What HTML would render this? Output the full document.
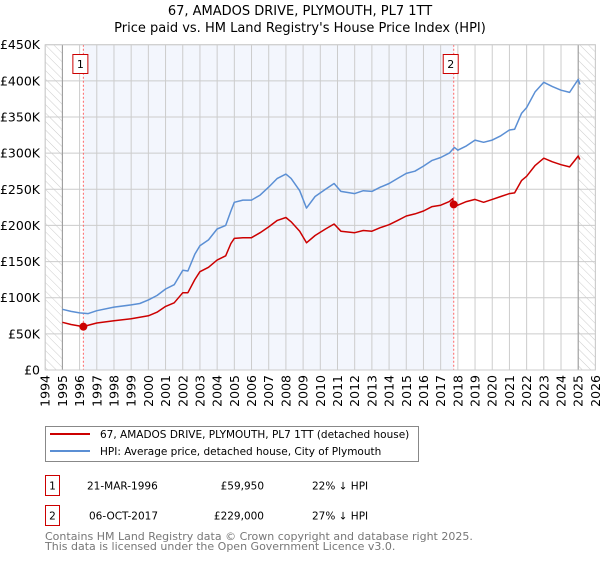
<!DOCTYPE html>
<html><head><meta charset="utf-8">
<style>
body{margin:0;background:#fff;font-family:"DejaVu Sans","Liberation Sans",sans-serif;}
svg text{font-family:"DejaVu Sans","Liberation Sans",sans-serif;}
</style></head>
<body>
<svg width="600" height="560" xmlns="http://www.w3.org/2000/svg">
<defs>
<pattern id="hatch" width="6" height="6" patternUnits="userSpaceOnUse" patternTransform="rotate(-45)">
<line x1="0" y1="0" x2="0" y2="6" stroke="#ccc" stroke-width="1"/>
</pattern>
</defs>
<text x="300" y="15" text-anchor="middle" font-size="13">67, AMADOS DRIVE, PLYMOUTH, PL7 1TT</text>
<text x="300" y="32" text-anchor="middle" font-size="13">Price paid vs. HM Land Registry's House Price Index (HPI)</text>
<g id="plot"></g>
<g>
<rect x="45.5" y="426.5" width="373" height="35" fill="#fff" stroke="#888"/>
<line x1="50" y1="434" x2="90" y2="434" stroke="#cc0000" stroke-width="2"/>
<text x="100" y="438" font-size="10.5">67, AMADOS DRIVE, PLYMOUTH, PL7 1TT (detached house)</text>
<line x1="50" y1="451" x2="90" y2="451" stroke="#5b8fd4" stroke-width="2"/>
<text x="100" y="455" font-size="10.5">HPI: Average price, detached house, City of Plymouth</text>
</g>
<g font-size="10.5">
<rect x="45.5" y="475.5" width="14" height="20" fill="#fff" stroke="#cc0000"/>
<text x="52.5" y="489.5" text-anchor="middle">1</text>
<text x="87" y="489.5">21-MAR-1996</text>
<text x="264" y="489.5" text-anchor="end">£59,950</text>
<text x="312" y="489.5">22% ↓ HPI</text>
<rect x="45.5" y="505.5" width="14" height="20" fill="#fff" stroke="#cc0000"/>
<text x="52.5" y="519.5" text-anchor="middle">2</text>
<text x="89" y="519.5">06-OCT-2017</text>
<text x="264" y="519.5" text-anchor="end">£229,000</text>
<text x="312" y="519.5">27% ↓ HPI</text>
</g>
<text x="45" y="540" font-size="11" fill="#777">Contains HM Land Registry data © Crown copyright and database right 2025.</text>
<text x="45" y="550" font-size="11" fill="#777">This data is licensed under the Open Government Licence v3.0.</text>
</svg>
<script>
const hpiYears=[1995,1995.5,1996,1996.5,1997,1998,1999,1999.5,2000,2000.5,2001,2001.5,2002,2002.3,2002.7,2003,2003.5,2004,2004.5,2004.8,2005,2005.5,2006,2006.5,2007,2007.5,2008,2008.3,2008.8,2009.2,2009.7,2010.3,2010.8,2011.2,2012,2012.5,2013,2013.5,2014,2014.5,2015,2015.5,2016,2016.5,2017,2017.5,2017.8,2018,2018.5,2019,2019.5,2020,2020.5,2021,2021.3,2021.7,2022,2022.5,2023,2023.5,2024,2024.5,2024.8,2025,2025.1];
const hpiValues=[84,81,79,78,82,87,90,92,97,103,112,118,138,137,160,172,180,195,200,220,232,235,235,242,253,265,271,265,248,224,240,250,258,247,244,248,247,253,258,265,272,275,282,290,294,300,308,304,310,318,315,318,324,332,333,355,363,385,398,392,387,384,395,402,395];
const priceYears=[1995,1995.5,1996.2,1997,1998,1999,2000,2000.5,2001,2001.5,2002,2002.3,2002.7,2003,2003.5,2004,2004.5,2004.8,2005,2005.5,2006,2006.5,2007,2007.5,2008,2008.3,2008.8,2009.2,2009.7,2010.3,2010.8,2011.2,2012,2012.5,2013,2013.5,2014,2014.5,2015,2015.5,2016,2016.5,2017,2017.5,2017.7,2017.76,2018,2018.5,2019,2019.5,2020,2020.5,2021,2021.3,2021.7,2022,2022.5,2023,2023.5,2024,2024.5,2024.8,2025,2025.1];
const priceValues=[66,63,60,65,68,71,75,80,88,93,107,107,125,136,142,152,158,175,182,183,183,190,198,207,211,205,192,176,186,195,202,192,190,193,192,197,201,207,213,216,220,226,228,233,237,229,228,233,236,232,236,240,244,245,262,268,283,293,288,284,281,290,296,291];
const saleYears=[1996.22,2017.76];
const saleValues=[59.95,229];
const saleLabels=["1","2"];
const yTicks=[0,50,100,150,200,250,300,350,400,450];
const yTickLabels=["£0","£50K","£100K","£150K","£200K","£250K","£300K","£350K","£400K","£450K"];
const xTicks=[1994,1995,1996,1997,1998,1999,2000,2001,2002,2003,2004,2005,2006,2007,2008,2009,2010,2011,2012,2013,2014,2015,2016,2017,2018,2019,2020,2021,2022,2023,2024,2025,2026];

const NS="http://www.w3.org/2000/svg";
const X0=45.2,X1=595.4,Y0=370,Y1=44.7;
const xs=y=>X0+(y-1994)/(2026-1994)*(X1-X0);
const ys=v=>Y0-v/450*(Y0-Y1);
const g=document.getElementById('plot');
function mk(t,a){const e=document.createElementNS(NS,t);for(const k in a)e.setAttribute(k,a[k]);g.appendChild(e);return e;}
let r=mk('rect',{x:X0,y:Y1,width:X1-X0,height:Y0-Y1,fill:'#fff'});


r=mk('rect',{x:xs(saleYears[0]),y:Y1,width:xs(saleYears[1])-xs(saleYears[0]),height:Y0-Y1,fill:'#f3f6fd'});


r=mk('rect',{x:X0,y:Y1,width:xs(1995)-X0,height:Y0-Y1,fill:'url(#hatch)'});


r=mk('rect',{x:xs(2025),y:Y1,width:X1-xs(2025),height:Y0-Y1,fill:'url(#hatch)'});


yTicks.forEach((v,i)=>{
 const l=mk('line',{x1:X0,x2:X1,y1:ys(v),y2:ys(v),stroke:'#ccc'});
 
 
 const t=mk('text',{x:40,y:ys(v)+4.5,'text-anchor':'end','font-size':'12.5'});
 t.textContent=yTickLabels[i];
 
 
});
xTicks.forEach(y=>{
 const l=mk('line',{x1:xs(y),x2:xs(y),y1:Y1,y2:Y0,stroke:'#ccc'});
 
 
 const t=mk('text',{x:0,y:0,'font-size':'12.5','text-anchor':'end',transform:`translate(${xs(y)+4.5},375) rotate(-90)`});
 t.textContent=y;
 
 
});
[1995,2025].forEach(y=>{const l=mk('line',{x1:xs(y),x2:xs(y),y1:Y1,y2:Y0,stroke:'#999'});
 
 });
saleYears.forEach((y,i)=>{
 const l=mk('line',{x1:xs(y),x2:xs(y),y1:Y1,y2:Y0,stroke:'#f66','stroke-dasharray':'2,2'});
 
 
 const b=mk('rect',{x:xs(y)-10.5,y:54.5,width:15,height:19,fill:'#fff',stroke:'#cc0000'});
 
 
 const t=mk('text',{x:xs(y)-3,y:68,'text-anchor':'middle','font-size':'11'});
 t.textContent=saleLabels[i];
 
 
});
function line(xa,va,col,name){
 const p=mk('polyline',{points:xa.map((y,i)=>xs(y).toFixed(1)+','+ys(va[i]).toFixed(1)).join(' '),fill:'none',stroke:col,'stroke-width':'1.5','stroke-linejoin':'round'});
 
 
}
line(hpiYears,hpiValues,'#5b8fd4','hpi-line');
line(priceYears,priceValues,'#cc0000','price-line');
saleYears.forEach((y,i)=>{
 const c=mk('circle',{cx:xs(y),cy:ys(saleValues[i]),r:4,fill:'#cc0000'});
 
 
});
r=mk('rect',{x:X0,y:Y1,width:X1-X0,height:Y0-Y1,fill:'none',stroke:'#ccc'});


</script>
</body></html>
